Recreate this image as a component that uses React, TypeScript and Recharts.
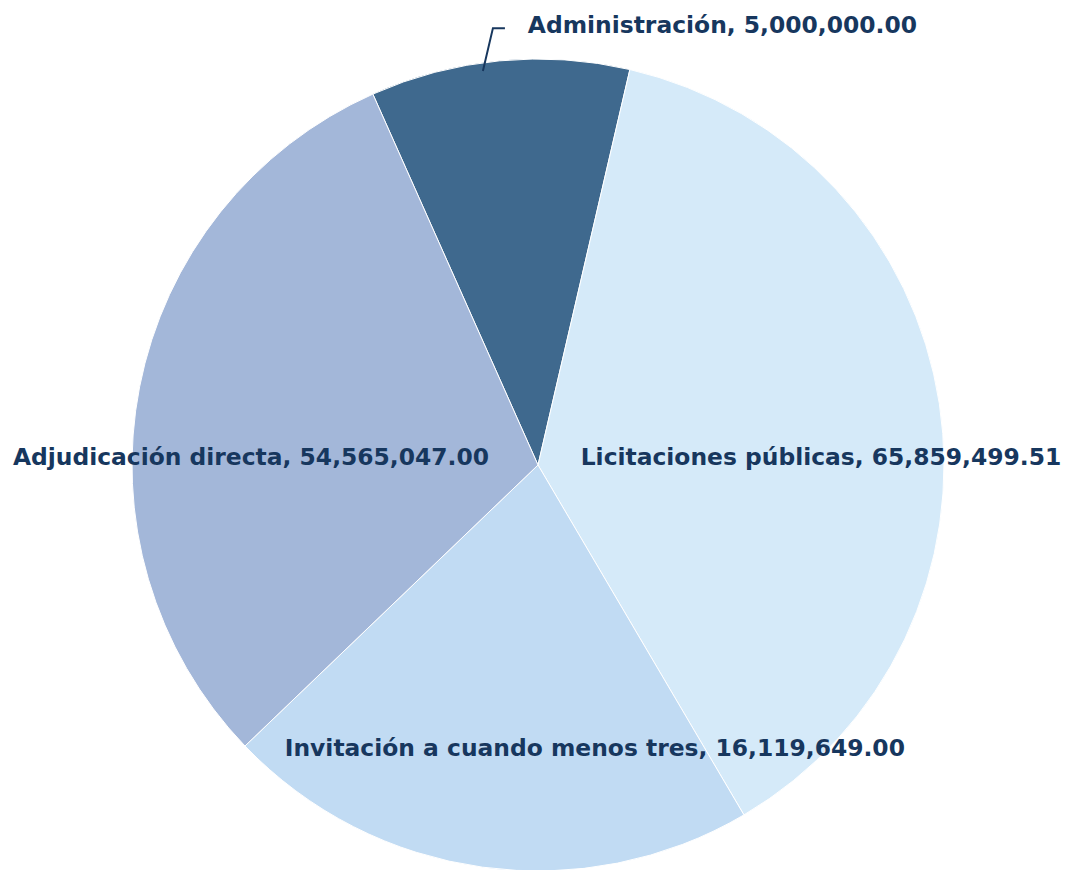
import React from 'react';
import { PieChart, Pie, Cell } from 'recharts';

// Categories (clockwise from the top-left slice)
const categories = [
  'Administración',
  'Licitaciones públicas',
  'Invitación a cuando menos tres',
  'Adjudicación directa',
];
// Amounts printed in the data labels
const amounts = ['5,000,000.00', '65,859,499.51', '16,119,649.00', '54,565,047.00'];
// Slice shares as drawn in the picture (percent of the circle)
const shares = [10.3, 37.9, 21.3, 30.5];

const colors = ['#3F698E', '#D5EAF9', '#C1DBF3', '#A3B7D9'];

const data = categories.map((name, i) => ({ name, value: shares[i], amount: amounts[i] }));

// label placement relative to the pie centre, as fractions of the radius
const labelPos = [
  { dx: -0.025, dy: -1.083, anchor: 'start' },
  { dx: 0.697, dy: -0.02, anchor: 'middle' },
  { dx: 0.14, dy: 0.697, anchor: 'middle' },
  { dx: -0.707, dy: -0.02, anchor: 'middle' },
];

const TEXT = '#17375E';

const renderLabel = (props: any) => {
  const { cx, cy, outerRadius, index, midAngle } = props;
  const p = labelPos[index];
  const x = cx + p.dx * outerRadius;
  const y = cy + p.dy * outerRadius;
  const label = `${categories[index]}, ${amounts[index]}`;
  let line = null;
  if (index === 0) {
    const a = ((midAngle + 2.5) * Math.PI) / 180;
    const sx = cx + Math.cos(a) * outerRadius * 0.98;
    const sy = cy - Math.sin(a) * outerRadius * 0.98;
    const ex = cx - 0.111 * outerRadius;
    const ey = cy - 1.076 * outerRadius;
    line = (
      <path
        d={`M${sx},${sy} L${ex},${ey} L${ex + 12},${ey}`}
        stroke={TEXT}
        strokeWidth={2}
        fill="none"
      />
    );
  }
  return (
    <g key={`lbl-${index}`}>
      {line}
      <text
        x={x}
        y={y}
        textAnchor={p.anchor}
        dominantBaseline="central"
        fill={TEXT}
        fontSize={23.4}
        fontWeight="bold"
        fontFamily="'DejaVu Sans', sans-serif"
      >
        {label}
      </text>
    </g>
  );
};

export default function App() {
  return (
    <div style={{ position: 'absolute', left: 0, top: 0, width: 1065, height: 870, background: '#fff' }}>
      <PieChart width={1065} height={870} margin={{ top: 0, right: 0, bottom: 0, left: 0 }}>
        <Pie
          data={data}
          dataKey="value"
          nameKey="name"
          cx={538}
          cy={465}
          outerRadius={406}
          startAngle={114}
          endAngle={-246}
          stroke="#ffffff"
          strokeWidth={1}
          label={renderLabel}
          labelLine={false}
          isAnimationActive={false}
        >
          {data.map((d, i) => (
            <Cell key={d.name} fill={colors[i]} />
          ))}
        </Pie>
      </PieChart>
    </div>
  );
}
